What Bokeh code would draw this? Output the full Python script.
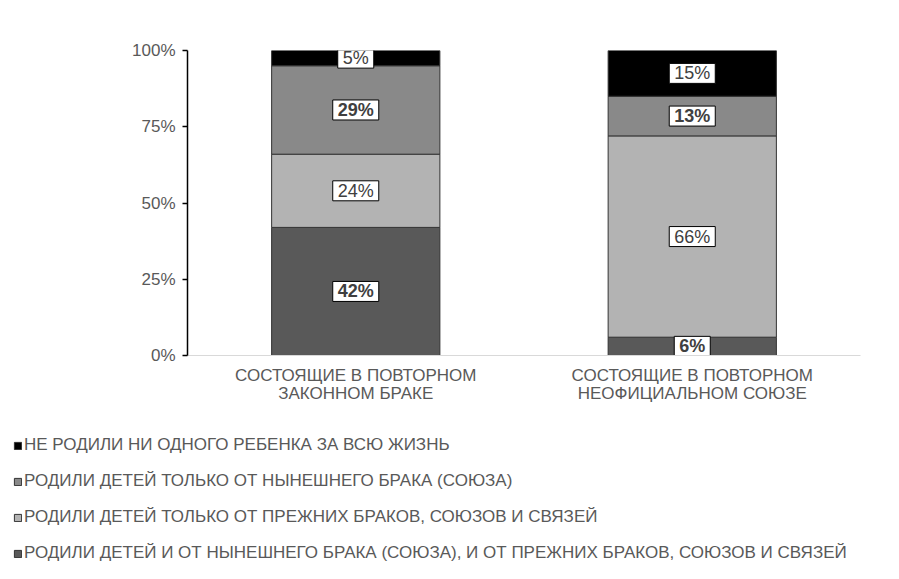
from bokeh.plotting import figure
from bokeh.models import (ColumnDataSource, FactorRange, Legend, LegendItem,
                          NumeralTickFormatter, FixedTicker)
from bokeh.layouts import column
from bokeh.core.properties import value
from bokeh.embed import file_html
from bokeh.resources import INLINE

# ---- data ----
categories = ["СОСТОЯЩИЕ В ПОВТОРНОМ\nЗАКОННОМ БРАКЕ",
              "СОСТОЯЩИЕ В ПОВТОРНОМ\nНЕОФИЦИАЛЬНОМ СОЮЗЕ"]
both_marriages = [0.42, 0.06]      # from current and previous
previous_only = [0.24, 0.66]
current_only = [0.29, 0.13]
no_children = [0.05, 0.15]

series_keys = ["both", "prev", "curr", "none"]
series_labels = {
    "none": "НЕ РОДИЛИ НИ ОДНОГО РЕБЕНКА ЗА ВСЮ ЖИЗНЬ",
    "curr": "РОДИЛИ ДЕТЕЙ ТОЛЬКО ОТ НЫНЕШНЕГО БРАКА (СОЮЗА)",
    "prev": "РОДИЛИ ДЕТЕЙ ТОЛЬКО ОТ ПРЕЖНИХ БРАКОВ, СОЮЗОВ И СВЯЗЕЙ",
    "both": "РОДИЛИ ДЕТЕЙ И ОТ НЫНЕШНЕГО БРАКА (СОЮЗА), И ОТ ПРЕЖНИХ БРАКОВ, СОЮЗОВ И СВЯЗЕЙ",
}
legend_order = ["none", "curr", "prev", "both"]
series_colors = {"both": "#595959", "prev": "#b3b3b3", "curr": "#898989", "none": "#000000"}
bold_series = {"both", "curr"}
y_ticks = [0, 0.25, 0.5, 0.75, 1.0]

values = {"both": both_marriages, "prev": previous_only, "curr": current_only, "none": no_children}

FONT = "Liberation Sans"
EDGE = "#333333"

src = ColumnDataSource(dict(cat=categories, **values))

p = figure(x_range=FactorRange(*categories, range_padding=0), y_range=(0, 1),
           width=883, height=420, output_backend="svg", toolbar_location=None,
           min_border_left=187, min_border_right=23, min_border_top=50, min_border_bottom=65)
p.outline_line_color = None
p.xgrid.grid_line_color = None
p.ygrid.grid_line_color = None

renderers = p.vbar_stack(series_keys, x="cat", width=0.5, source=src,
                         fill_color=[series_colors[k] for k in series_keys],
                         line_color=EDGE, line_width=1)

# value labels
bold_data = dict(x=[], y=[], t=[])
norm_data = dict(x=[], y=[], t=[])
for i, c in enumerate(categories):
    base = 0.0
    for k in series_keys:
        v = values[k][i]
        d = bold_data if k in bold_series else norm_data
        d["x"].append(c)
        d["y"].append(base + v / 2)
        d["t"].append(f"{round(v * 100)}%")
        base += v

for d, style in ((bold_data, "bold"), (norm_data, "normal")):
    p.text(x="x", y="y", text="t", source=ColumnDataSource(d),
           text_align="center", text_baseline="middle",
           text_font=value(FONT), text_font_size="18px", text_font_style=style,
           text_color="#404040",
           background_fill_color="white", border_line_color="black",
           border_line_width=1, padding=dict(left=5, right=5, top=0, bottom=0))

# axes
p.yaxis.ticker = FixedTicker(ticks=y_ticks)
p.yaxis.formatter = NumeralTickFormatter(format="0%")
p.yaxis.axis_line_color = "black"
p.yaxis.axis_line_width = 1.5
p.yaxis.major_tick_line_color = "black"
p.yaxis.major_tick_line_width = 1.5
p.yaxis.major_tick_in = 0
p.yaxis.major_tick_out = 5
p.yaxis.minor_tick_line_color = None
p.yaxis.major_label_standoff = 7
p.yaxis.major_label_text_font = FONT
p.yaxis.major_label_text_font_size = "17px"
p.yaxis.major_label_text_color = "#595959"

p.xaxis.axis_line_color = "#d9d9d9"
p.xaxis.major_tick_line_color = None
p.xaxis.minor_tick_line_color = None
p.xaxis.major_label_standoff = 4
p.xaxis.major_label_text_font = FONT
p.xaxis.major_label_text_font_size = "17px"
p.xaxis.major_label_text_color = "#595959"
p.xaxis.major_label_text_line_height = 0.95

# legend panel: same stacked series drawn off-range so only legend glyphs show
p2 = figure(frame_width=883, frame_height=143,
            x_range=FactorRange(*categories), y_range=(5, 6),
            x_axis_location=None, y_axis_location=None,
            output_backend="svg", toolbar_location=None,
            min_border=0, outline_line_color=None)
p2.grid.visible = False
leg_renderers = p2.vbar_stack(series_keys, x="cat", width=0.5, source=src,
                              fill_color=[series_colors[k] for k in series_keys],
                              line_color=EDGE, line_width=1)
items = [LegendItem(label=series_labels[k], renderers=[leg_renderers[series_keys.index(k)]])
         for k in legend_order]
legend = Legend(items=items, location=(13, 0), orientation="vertical",
                glyph_width=9, glyph_height=9, label_standoff=2, spacing=16,
                padding=0, margin=0, border_line_color=None, background_fill_alpha=0,
                label_text_font=FONT, label_text_font_size="17px",
                label_text_color="#595959")
p2.add_layout(legend)

layout = column(p, p2, spacing=0)
open("out.html", "w").write(file_html(layout, INLINE))
